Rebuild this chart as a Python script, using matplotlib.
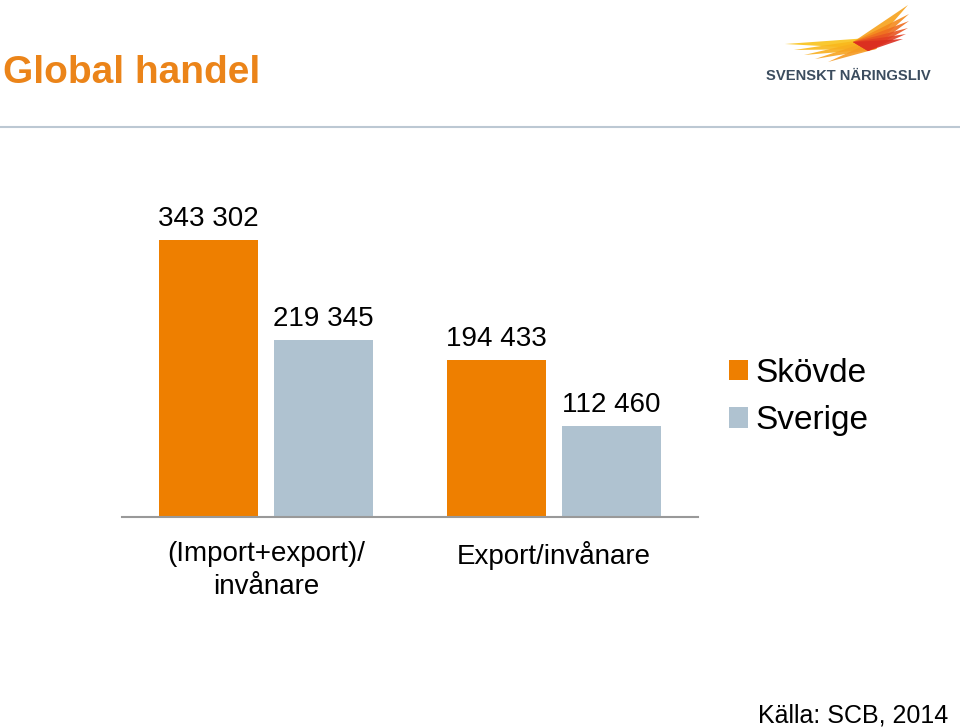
import numpy as np
import matplotlib.pyplot as plt
from matplotlib.lines import Line2D
from matplotlib.patches import Polygon

plt.rcParams['font.family'] = ['Liberation Sans', 'DejaVu Sans']

# data
categories = ["(Import+export)/\ninvånare", "Export/invånare"]
series_names = ["Skövde", "Sverige"]
skovde = [343302, 194433]
sverige = [219345, 112460]
colors = ["#EE7F00", "#AFC2D0"]


def fmt(v):
    return "{:,}".format(v).replace(",", " ")


fig = plt.figure(figsize=(9.6, 7.28), dpi=100)

# title and header line
fig.text(3 / 960, 1 - 83 / 728, "Global handel", color="#EB8419",
         fontsize=28, fontweight="bold", va="baseline", ha="left")
fig.add_artist(Line2D([0, 1], [1 - 127 / 728, 1 - 127 / 728],
                      color="#BCC8D3", lw=1.5, transform=fig.transFigure))

# logo (decoration)
deco = fig.add_axes([0, 0, 1, 1], zorder=-1)
deco.set_xlim(0, 960)
deco.set_ylim(728, 0)
deco.axis("off")
left_feathers = [(785, 44, "#F9C21A"), (794, 50, "#F9B81C"), (804, 55, "#F8AE1E"),
                 (815, 59, "#F7A420"), (828, 62, "#F59A22")]
for tx, ty, c in left_feathers:
    deco.add_patch(Polygon([(tx, ty), (882, 37), (876, 49)], closed=True,
                           color=c, lw=0, alpha=0.9))
right_feathers = [(908, 5, "#F7A21B"), (909, 14, "#F48A1E"), (909, 21, "#EF6E20"),
                  (908, 28, "#E85422"), (906, 34, "#E23E22"), (903, 39, "#DB2E20")]
for tx, ty, c in right_feathers:
    deco.add_patch(Polygon([(tx, ty), (853, 42), (868, 51)], closed=True,
                           color=c, lw=0, alpha=0.9))
fig.text(766 / 960, 1 - 80 / 728, "SVENSKT NÄRINGSLIV", color="#3B4C5E",
         fontsize=10.6, fontweight="bold", va="baseline", ha="left")

# chart
ax = fig.add_axes([122 / 960, 1 - 517 / 728, 576 / 960, 363 / 728])
x = np.arange(len(categories))
w = 0.344
off = 0.2
b1 = ax.bar(x - off, skovde, w, color=colors[0], label=series_names[0])
b2 = ax.bar(x + off, sverige, w, color=colors[1], label=series_names[1])
for bars, vals in ((b1, skovde), (b2, sverige)):
    for r, v in zip(bars, vals):
        ax.annotate(fmt(v), (r.get_x() + r.get_width() / 2, r.get_height()),
                    xytext=(0, 6), textcoords="offset points",
                    ha="center", va="bottom", fontsize=20)

ax.set_xlim(-0.5, 1.5)
ax.set_ylim(0, 450000)
ax.set_xticks(x)
ax.set_xticklabels(categories, fontsize=20, linespacing=1.35)
ax.tick_params(axis="x", length=0, pad=17)
ax.set_yticks([])
for s in ["top", "right", "left"]:
    ax.spines[s].set_visible(False)
ax.spines["bottom"].set_color("#999999")
ax.spines["bottom"].set_linewidth(1.5)

ax.legend(loc="center left", bbox_to_anchor=(729 / 960, 1 - 397 / 728),
          bbox_transform=fig.transFigure, frameon=False, fontsize=24,
          handlelength=0.58, handleheight=0.58, handletextpad=0.22,
          labelspacing=0.5, borderpad=0, borderaxespad=0)

fig.text(948 / 960, 1 - 722 / 728, "Källa: SCB, 2014", fontsize=18,
         ha="right", va="baseline")

fig.savefig("out.png", dpi=100)
